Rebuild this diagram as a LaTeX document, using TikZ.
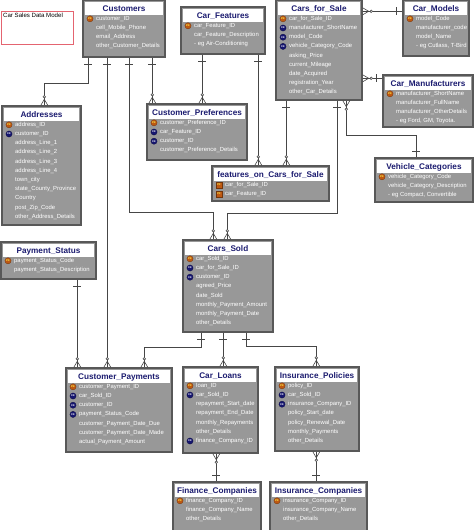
\documentclass[tikz,border=0pt]{standalone}
\usepackage{fontspec}
\setmainfont{Liberation Sans}
\usetikzlibrary{calc,fit}
\definecolor{boxgray}{RGB}{152,152,152}
\definecolor{boxedge}{RGB}{88,88,88}
\definecolor{titlenavy}{RGB}{28,28,112}
\definecolor{pkbrown}{RGB}{190,88,18}
\definecolor{fknavy}{RGB}{22,22,112}
\definecolor{connc}{RGB}{70,70,70}
\definecolor{notered}{RGB}{228,100,112}
\tikzset{
 ebox/.style={draw=boxedge, fill=boxgray, line width=1.4pt, inner sep=0pt},
 etitle/.style={font=\fontsize{8.2}{9}\selectfont\bfseries, text=titlenavy, inner sep=0pt},
 eitem/.style={font=\fontsize{5.9}{7}\selectfont, text=white, inner sep=0pt, anchor=west},
 conn/.style={draw=connc, line width=0.6pt},
 PKicon/.style={circle, fill=pkbrown, draw=pkbrown!60!black, line width=0.3pt, minimum size=6.2pt, inner sep=0pt, font=\fontsize{2.6}{3}\selectfont\bfseries, text=yellow!70!white},
 FKicon/.style={circle, fill=fknavy, draw=fknavy!60!black, line width=0.3pt, minimum size=6.2pt, inner sep=0pt, font=\fontsize{2.6}{3}\selectfont\bfseries, text=white},
 PFicon/.style={rectangle, fill=pkbrown, draw=pkbrown!60!black, line width=0.3pt, minimum width=6.2pt, minimum height=5.8pt, inner sep=0pt, font=\fontsize{2.6}{3}\selectfont\bfseries, text=yellow!70!white},
}
\newcounter{rowi}
\newcommand\ent[7]{%
  \node[ebox, fit={(#2,#3) (#4,#5)}] (#1) {};
  \fill[white] ({#2+2.2},{#3+2.2}) rectangle ({#4-2.2},{#3+15});
  \node[etitle] (#1-title) at ({(#2+#4)/2},{#3+9}) {#6};
  \def\entname{#1}\def\ex{#2}\def\ey{#3}\setcounter{rowi}{0}%
  #7}
\newcommand\row[2]{%
  \pgfmathsetmacro\ry{\ey+18.8+9.2*\number\value{rowi}}%
  \ifx&#1&\else\node[#1icon] (\entname-i\arabic{rowi}) at ({\ex+7},\ry) {#1};\fi
  \node[eitem] (\entname-r\arabic{rowi}) at ({\ex+13},\ry) {#2};
  \stepcounter{rowi}}
\newcommand\tickS[1]{\draw[conn] ($(#1)+(-4,6.5)$) -- ($(#1)+(4,6.5)$);}
\newcommand\tickN[1]{\draw[conn] ($(#1)+(-4,-6.5)$) -- ($(#1)+(4,-6.5)$);}
\newcommand\tickW[1]{\draw[conn] ($(#1)+(-6,-4)$) -- ($(#1)+(-6,4)$);}
\newcommand\crowN[1]{\draw[conn] ($(#1)+(-3.5,0)$) -- ($(#1)+(0,-6)$) -- ($(#1)+(3.5,0)$);
  \draw[conn, fill=white] ($(#1)+(0,-8.5)$) circle (1.3pt);}
\newcommand\crowS[1]{\draw[conn] ($(#1)+(-3.5,0)$) -- ($(#1)+(0,6)$) -- ($(#1)+(3.5,0)$);
  \draw[conn, fill=white] ($(#1)+(0,8.5)$) circle (1.3pt);}
\newcommand\crowE[1]{\draw[conn] ($(#1)+(0,-3.5)$) -- ($(#1)+(6,0)$) -- ($(#1)+(0,3.5)$);
  \draw[conn, fill=white] ($(#1)+(8.5,0)$) circle (1.3pt);}
\begin{document}
\begin{tikzpicture}[x=1pt,y=-1pt]
\useasboundingbox (0,0) rectangle (474,530);
\fill[white] (0,0) rectangle (474,530);
% note
\node[draw=notered, line width=0.8pt, fill=white, inner sep=0pt, fit={(1,11) (73,44)}] (note) {};
\node[anchor=north west, inner sep=0pt, font=\fontsize{6.1}{7}\selectfont] (notetext) at (3,12.5) {Car Sales Data Model};
% entities
\ent{customers}{83}{0}{165}{57}{Customers}{%
 \row{PK}{customer\_ID}\row{}{cell\_Mobile\_Phone}\row{}{email\_Address}\row{}{other\_Customer\_Details}}
\ent{carfeatures}{181}{7}{265}{54}{Car\_Features}{%
 \row{PK}{car\_Feature\_ID}\row{}{car\_Feature\_Description}\row{}{- eg Air-Conditioning}}
\ent{carsforsale}{276}{0}{362}{100}{Cars\_for\_Sale}{%
 \row{PK}{car\_for\_Sale\_ID}\row{FK}{manufacturer\_ShortName}\row{FK}{model\_Code}\row{FK}{vehicle\_Category\_Code}%
 \row{}{asking\_Price}\row{}{current\_Mileage}\row{}{date\_Acquired}\row{}{registration\_Year}\row{}{other\_Car\_Details}}
\ent{carmodels}{403}{0}{469}{56}{Car\_Models}{%
 \row{PK}{model\_Code}\row{}{manufacturer\_code}\row{}{model\_Name}\row{}{- eg Cutlass, T-Bird}}
\ent{carmanuf}{383}{75}{473}{127}{Car\_Manufacturers}{%
 \row{PK}{manufacturer\_ShortName}\row{}{manufacturer\_FullName}\row{}{manufacturer\_OtherDetails}\row{}{- eg Ford, GM, Toyota.}}
\ent{vehcat}{375}{158}{473}{202}{Vehicle\_Categories}{%
 \row{PK}{vehicle\_Category\_Code}\row{}{vehicle\_Category\_Description}\row{}{- eg Compact, Convertible}}
\ent{addresses}{2}{106}{81}{225}{Addresses}{%
 \row{PK}{address\_ID}\row{FK}{customer\_ID}\row{}{address\_Line\_1}\row{}{address\_Line\_2}\row{}{address\_Line\_3}%
 \row{}{address\_Line\_4}\row{}{town\_city}\row{}{state\_County\_Province}\row{}{Country}\row{}{post\_Zip\_Code}\row{}{other\_Address\_Details}}
\ent{custprefs}{147}{104}{247}{160}{Customer\_Preferences}{%
 \row{PK}{customer\_Preference\_ID}\row{FK}{car\_Feature\_ID}\row{FK}{customer\_ID}\row{}{customer\_Preference\_Details}}
\ent{featcars}{212}{166}{329}{201}{features\_on\_Cars\_for\_Sale}{%
 \row{PF}{car\_for\_Sale\_ID}\row{PF}{car\_Feature\_ID}}
\ent{paystatus}{1}{242}{96}{279}{Payment\_Status}{%
 \row{PK}{payment\_Status\_Code}\row{}{payment\_Status\_Description}}
\ent{carssold}{183}{240}{273}{332}{Cars\_Sold}{%
 \row{PK}{car\_Sold\_ID}\row{FK}{car\_for\_Sale\_ID}\row{FK}{customer\_ID}\row{}{agreed\_Price}\row{}{date\_Sold}%
 \row{}{monthly\_Payment\_Amount}\row{}{monthly\_Payment\_Date}\row{}{other\_Details}}
\ent{custpay}{66}{368}{172}{452}{Customer\_Payments}{%
 \row{PK}{customer\_Payment\_ID}\row{FK}{car\_Sold\_ID}\row{FK}{customer\_ID}\row{FK}{payment\_Status\_Code}%
 \row{}{customer\_Payment\_Date\_Due}\row{}{customer\_Payment\_Date\_Made}\row{}{actual\_Payment\_Amount}}
\ent{carloans}{183}{367}{258}{453}{Car\_Loans}{%
 \row{PK}{loan\_ID}\row{FK}{car\_Sold\_ID}\row{}{repayment\_Start\_date}\row{}{repayment\_End\_Date}%
 \row{}{monthly\_Repayments}\row{}{other\_Details}\row{FK}{finance\_Company\_ID}}
\ent{inspol}{275}{367}{359}{451}{Insurance\_Policies}{%
 \row{PK}{policy\_ID}\row{FK}{car\_Sold\_ID}\row{FK}{insurance\_Company\_ID}\row{}{policy\_Start\_date}%
 \row{}{policy\_Renewal\_Date}\row{}{monthly\_Payments}\row{}{other\_Details}}
\ent{fincos}{173}{482}{261}{533}{Finance\_Companies}{%
 \row{PK}{finance\_Company\_ID}\row{}{finance\_Company\_Name}\row{}{other\_Details}}
\ent{inscos}{270}{482}{367}{533}{Insurance\_Companies}{%
 \row{PK}{insurance\_Company\_ID}\row{}{insurance\_Company\_Name}\row{}{other\_Details}}
% connector end points
\coordinate (cu1) at ([xshift=6pt]customers.south west);
\coordinate (cu2) at ([xshift=25pt]customers.south west);
\coordinate (cu3) at ([xshift=47pt]customers.south west);
\coordinate (cu4) at ([xshift=70pt]customers.south west);
\coordinate (ad1) at ([xshift=43pt]addresses.north west);
\coordinate (cp1) at ([xshift=12pt]custpay.north west);
\coordinate (cp2) at ([xshift=42pt]custpay.north west);
\coordinate (cp3) at ([xshift=79pt]custpay.north west);
\coordinate (cs1) at ([xshift=31pt]carssold.north west);
\coordinate (cs2) at ([xshift=45pt]carssold.north west);
\coordinate (cs3) at ([xshift=19pt]carssold.south west);
\coordinate (cs4) at ([xshift=41pt]carssold.south west);
\coordinate (cs5) at ([xshift=64pt]carssold.south west);
\coordinate (cpr1) at ([xshift=6pt]custprefs.north west);
\coordinate (cpr2) at ([xshift=56pt]custprefs.north west);
\coordinate (cf1) at ([xshift=22pt]carfeatures.south west);
\coordinate (cf2) at ([xshift=78pt]carfeatures.south west);
\coordinate (fc1) at ([xshift=47pt]featcars.north west);
\coordinate (fc2) at ([xshift=75pt]featcars.north west);
\coordinate (cfs1) at ([xshift=11pt]carsforsale.south west);
\coordinate (cfs2) at ([xshift=62pt]carsforsale.south west);
\coordinate (cfs3) at ([xshift=71pt]carsforsale.south west);
\coordinate (cfsR1) at ($(carsforsale.north east)+(0,12)$);
\coordinate (cfsR2) at ($(carsforsale.north east)+(0,79)$);
\coordinate (cm1) at ($(carmodels.north west)+(0,12)$);
\coordinate (cmf1) at ($(carmanuf.north west)+(0,4)$);
\coordinate (vc1) at ([xshift=42pt]vehcat.north west);
\coordinate (ps1) at ([xshift=77pt]paystatus.south west);
\coordinate (cl1) at ([xshift=41pt]carloans.north west);
\coordinate (cl2) at ([xshift=34pt]carloans.south west);
\coordinate (ip1) at ([xshift=42pt]inspol.north west);
\coordinate (ip2) at ([xshift=42pt]inspol.south west);
\coordinate (fco1) at ([xshift=44pt]fincos.north west);
\coordinate (ico1) at ([xshift=47pt]inscos.north west);
% connectors
\draw[conn] (cu1) -- ($(cu1)+(0,26)$) -| (ad1);
\draw[conn] (cu2) -- (cp2);
\draw[conn] (cu3) |- ($(cs1)+(0,-27)$) -- (cs1);
\draw[conn] (cu4) -- (cpr1);
\draw[conn] (cf1) -- (cpr2);
\draw[conn] (cf2) -- (fc1);
\draw[conn] (cfs1) -- (fc2);
\draw[conn] (cfs2) |- ($(cs2)+(0,-26)$) -- (cs2);
\draw[conn] (vc1) |- ($(cfs3)+(0,35)$) -- (cfs3);
\draw[conn] (cfsR1) -- (cm1);
\draw[conn] (cfsR2) -- (cmf1);
\draw[conn] (ps1) -- (cp1);
\draw[conn] (cs3) |- ($(cp3)+(0,-20)$) -- (cp3);
\draw[conn] (cs4) -- (cl1);
\draw[conn] (cs5) |- ($(ip1)+(0,-20)$) -- (ip1);
\draw[conn] (cl2) -- (fco1);
\draw[conn] (ip2) -- (ico1);
% cardinality marks
\tickS{cu1}\crowN{ad1}
\tickS{cu2}\crowN{cp2}
\tickS{cu3}\crowN{cs1}
\tickS{cu4}\crowN{cpr1}
\tickS{cf1}\crowN{cpr2}
\tickS{cf2}\crowN{fc1}
\tickS{cfs1}\crowN{fc2}
\tickS{cfs2}\crowN{cs2}
\tickN{vc1}\crowS{cfs3}
\crowE{cfsR1}\tickW{cm1}
\crowE{cfsR2}\tickW{cmf1}
\tickS{ps1}\crowN{cp1}
\tickS{cs3}\crowN{cp3}
\tickS{cs4}\crowN{cl1}
\tickS{cs5}\crowN{ip1}
\crowS{cl2}\tickN{fco1}
\crowS{ip2}\tickN{ico1}
\end{tikzpicture}
\end{document}
